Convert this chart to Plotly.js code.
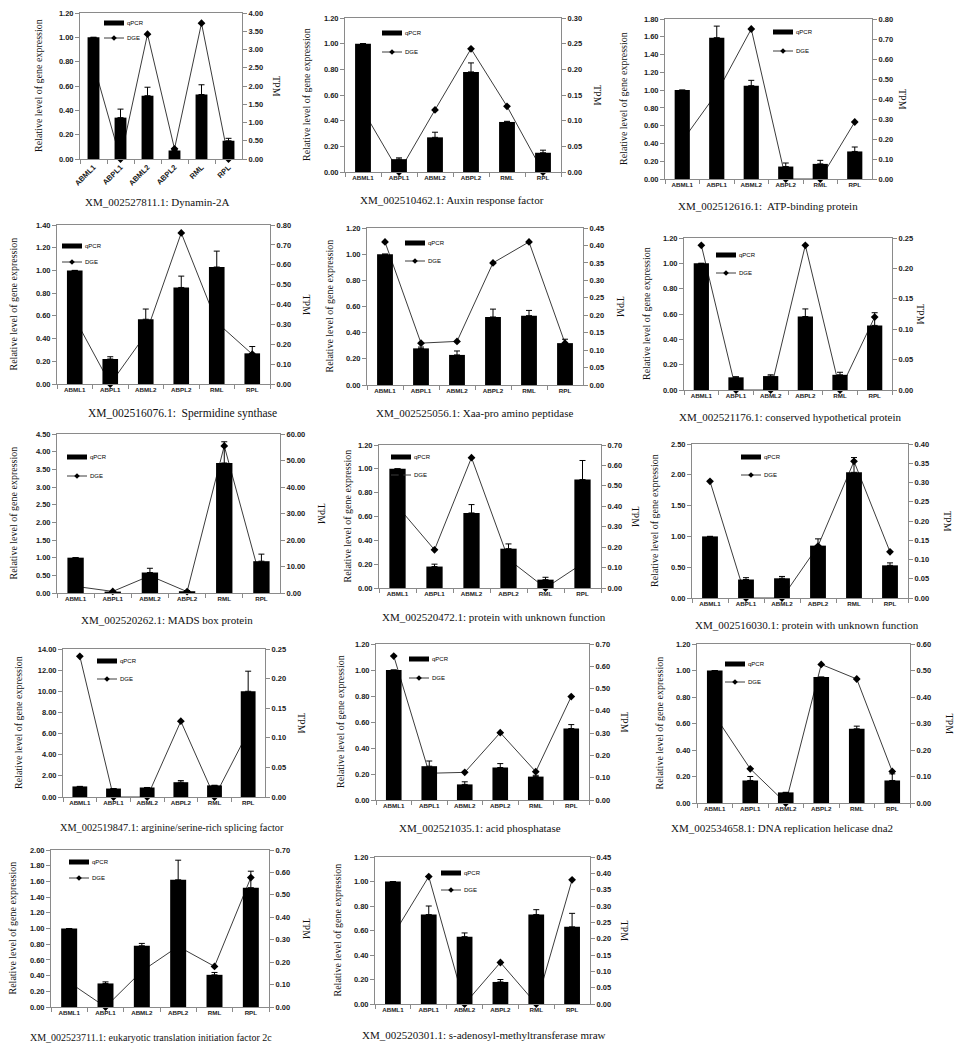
<!DOCTYPE html>
<html><head><meta charset="utf-8">
<script src="https://cdn.plot.ly/plotly-3.0.1.min.js"></script>
<style>html,body{margin:0;padding:0;background:#fff}#chart{width:965px;height:1052px}</style>
</head><body><div id="chart"></div>
<script>
// ---------- DATA ----------
const categories = ['ABML1','ABPL1','ABML2','ABPL2','RML','RPL'];
const geneTitles = [
  'XM_002527811.1: Dynamin-2A',
  'XM_002510462.1: Auxin response factor',
  'XM_002512616.1:  ATP-binding protein',
  'XM_002516076.1:  Spermidine synthase',
  'XM_002525056.1: Xaa-pro amino peptidase',
  'XM_002521176.1: conserved hypothetical protein',
  'XM_002520262.1: MADS box protein',
  'XM_002520472.1: protein with unknown function',
  'XM_002516030.1: protein with unknown function',
  'XM_002519847.1: arginine/serine-rich splicing factor',
  'XM_002521035.1: acid phosphatase',
  'XM_002534658.1: DNA replication helicase dna2',
  'XM_002523711.1: eukaryotic translation initiation factor 2c',
  'XM_002520301.1: s-adenosyl-methyltransferase mraw'
];
const leftTitle = 'Relative level of gene expression';
const rightTitle = 'TPM';
const qpcrName = 'qPCR';
const dgeName = 'DGE';

const qpcr1 = [1.00, 0.34, 0.52, 0.07, 0.53, 0.15];
const err1  = [0, 0.07, 0.07, 0.01, 0.08, 0.02];
const dge1  = [2.60, 0, 3.42, 0.28, 3.72, 0];

const qpcr2 = [1.00, 0.10, 0.27, 0.78, 0.39, 0.15];
const err2  = [0, 0.01, 0.04, 0.07, 0.005, 0.02];
const dge2  = [0.12, 0, 0.121, 0.24, 0.128, 0];

const qpcr3 = [1.00, 1.59, 1.05, 0.14, 0.17, 0.31];
const err3  = [0, 0.13, 0.06, 0.04, 0.04, 0.05];
const dge3  = [0.19, 0.43, 0.75, 0, 0, 0.285];

const qpcr4 = [1.00, 0.22, 0.57, 0.85, 1.03, 0.27];
const err4  = [0, 0.02, 0.09, 0.10, 0.14, 0.06];
const dge4  = [0.33, 0, 0.25, 0.76, 0.31, 0.15];

const qpcr5 = [1.00, 0.28, 0.23, 0.52, 0.53, 0.32];
const err5  = [0, 0.01, 0.03, 0.06, 0.04, 0.03];
const dge5  = [0.41, 0.12, 0.125, 0.35, 0.41, 0.12];

const qpcr6 = [1.00, 0.10, 0.11, 0.58, 0.12, 0.51];
const err6  = [0, 0.005, 0.01, 0.06, 0.02, 0.10];
const dge6  = [0.238, 0, 0, 0.238, 0, 0.12];

const qpcr7 = [1.00, 0.04, 0.58, 0.05, 3.68, 0.90];
const err7  = [0, 0, 0.12, 0.02, 0.60, 0.20];
const dge7  = [2.5, 0.6, 6.5, 0.5, 55.5, 4.0];

const qpcr8 = [1.00, 0.18, 0.63, 0.33, 0.07, 0.91];
const err8  = [0, 0.02, 0.07, 0.04, 0.02, 0.16];
const dge8  = [0.40, 0.187, 0.638, 0.14, 0, 0.12];

const qpcr9 = [1.00, 0.30, 0.32, 0.85, 2.04, 0.53];
const err9  = [0, 0.03, 0.03, 0.11, 0.24, 0.04];
const dge9  = [0.303, 0, 0, 0.135, 0.355, 0.12];

const qpcr10 = [1.00, 0.80, 0.90, 1.40, 1.10, 10.00];
const err10  = [0, 0, 0, 0.15, 0, 1.90];
const dge10  = [0.2376, 0, 0, 0.128, 0, 0.11];

const qpcr11 = [1.00, 0.26, 0.12, 0.25, 0.18, 0.55];
const err11  = [0, 0.04, 0.02, 0.03, 0.01, 0.03];
const dge11  = [0.646, 0.12, 0.124, 0.302, 0.127, 0.464];

const qpcr12 = [1.00, 0.17, 0.08, 0.95, 0.56, 0.17];
const err12  = [0, 0.03, 0, 0, 0.02, 0.05];
const dge12  = [0.33, 0.129, 0, 0.523, 0.468, 0.119];

const qpcr13 = [1.00, 0.30, 0.78, 1.62, 0.41, 1.52];
const err13  = [0, 0.02, 0.03, 0.25, 0.03, 0.21];
const dge13  = [0.11, 0, 0.16, 0.27, 0.181, 0.577];

const qpcr14 = [1.00, 0.73, 0.55, 0.18, 0.73, 0.63];
const err14  = [0, 0.07, 0.03, 0.02, 0.04, 0.11];
const dge14  = [0.21, 0.39, 0, 0.127, 0, 0.38];

const qpcrSeries = [qpcr1,qpcr2,qpcr3,qpcr4,qpcr5,qpcr6,qpcr7,qpcr8,qpcr9,qpcr10,qpcr11,qpcr12,qpcr13,qpcr14];
const errSeries  = [err1,err2,err3,err4,err5,err6,err7,err8,err9,err10,err11,err12,err13,err14];
const dgeSeries  = [dge1,dge2,dge3,dge4,dge5,dge6,dge7,dge8,dge9,dge10,dge11,dge12,dge13,dge14];

// ---------- LAYOUT CONFIG (pixel positions / axis scales) ----------
const W = 965, H = 1052;
const panels = [
  {box:[80,242,13,159],  left:[1.2,0.2], right:[4,0.5],   ltx:39,  rtx:276, tx:157, ty:202, ts:11,   leg:[104,23,15],  ta:-45, xs:7.5},
  {box:[345,561,18,172], left:[1.2,0.2], right:[0.3,0.05],ltx:307, rtx:597, tx:452, ty:200, ts:11,   leg:[382,33,19]},
  {box:[665,872,19,179], left:[1.8,0.2], right:[0.8,0.1], ltx:623, rtx:903, tx:768, ty:206, ts:11,   leg:[773,32,19]},
  {box:[57,270,225,384], left:[1.4,0.2], right:[0.8,0.1], ltx:13,  rtx:306, tx:182, ty:413, ts:11.5, leg:[62,246,16]},
  {box:[367,583,228,385],left:[1.2,0.2], right:[0.45,0.05],ltx:329,rtx:620, tx:474, ty:413, ts:11,   leg:[405,243,18]},
  {box:[684,892,238,390],left:[1.2,0.2], right:[0.25,0.05],ltx:647,rtx:920, tx:790, ty:417, ts:11,   leg:[716,255,18]},
  {box:[57,280,434,593], left:[4.5,0.5], right:[60,10],   ltx:13,  rtx:321, tx:167, ty:620, ts:11,   leg:[67,457,19]},
  {box:[379,601,445,588],left:[1.2,0.2], right:[0.7,0.1], ltx:347, rtx:635, tx:494, ty:617, ts:11,   leg:[391,457,18]},
  {box:[692,908,444,598],left:[2.5,0.5], right:[0.4,0.05],ltx:655, rtx:947, tx:807, ty:625, ts:11,   leg:[741,457,18]},
  {box:[63,265,649,797], left:[14,2],    right:[0.25,0.05],ltx:18, rtx:302, tx:172, ty:827, ts:10.3, leg:[97,661,18]},
  {box:[376,589,644,800],left:[1.2,0.2], right:[0.7,0.1], ltx:340, rtx:625, tx:480, ty:828, ts:11,   leg:[409,659,19]},
  {box:[697,910,644,803],left:[1.2,0.2], right:[0.6,0.1], ltx:659, rtx:949, tx:782, ty:828, ts:11,   leg:[725,664,18]},
  {box:[51,269,850,1007],left:[2.0,0.2], right:[0.7,0.1], ltx:12,  rtx:306, tx:151, ty:1037,ts:10,   leg:[69,862,16]},
  {box:[375,590,857,1004],left:[1.2,0.2],right:[0.45,0.05],ltx:337,rtx:624, tx:484, ty:1035,ts:11,   leg:[441,873,17]}
];

const sans = 'Liberation Sans, Arial, sans-serif';
const serif = 'Liberation Serif, Times New Roman, serif';
const axisCommon = {
  showline:true, linecolor:'#8a8a8a', linewidth:1,
  ticks:'outside', ticklen:4, tickcolor:'#8a8a8a', tickwidth:1,
  showgrid:false, zeroline:false, fixedrange:true
};
const yTickFont = {family:sans, size:7.5, color:'#1a1a1a', weight:'bold'};
const lineColor = '#3c3c3c';

const data = [];
const layout = {
  width:W, height:H, margin:{l:0,r:0,t:0,b:0},
  paper_bgcolor:'#fff', plot_bgcolor:'rgba(0,0,0,0)',
  bargap:0.56, showlegend:false, annotations:[], shapes:[]
};
const px = v => v / W;
const py = v => 1 - v / H;

panels.forEach((p, i) => {
  const n = i + 1;
  const xName = n === 1 ? 'x' : 'x' + n;
  const xKey = n === 1 ? 'xaxis' : 'xaxis' + n;
  const b = 2*n - 1, o = 2*n;
  const yBase = b === 1 ? 'y' : 'y' + b;
  const yBaseKey = b === 1 ? 'yaxis' : 'yaxis' + b;
  const yOver = 'y' + o, yOverKey = 'yaxis' + o;
  const [x0, x1, y0, y1] = p.box;
  const dom = [py(y1), py(y0)];

  layout[xKey] = Object.assign({}, axisCommon, {
    domain:[px(x0), px(x1)], anchor:yBase, type:'category',
    categoryorder:'array', categoryarray:categories,
    tickfont:{family:sans, size:p.xs || 6.2, color:'#1a1a1a', weight:'bold'},
    tickson:'boundaries', mirror:true, tickangle:p.ta || 0, range:[-0.5, 5.5]
  });
  layout[yBaseKey] = Object.assign({}, axisCommon, {
    domain:dom, anchor:xName, side:'right', tickfont:yTickFont,
    range:[0, p.right[0]], dtick:p.right[1], tick0:0, tickformat:'.2f'
  });
  layout[yOverKey] = Object.assign({}, axisCommon, {
    domain:dom, anchor:xName, side:'left', overlaying:yBase, tickfont:yTickFont,
    range:[0, p.left[0]], dtick:p.left[1], tick0:0, tickformat:'.2f'
  });

  // DGE line (base axis, drawn underneath)
  data.push({
    type:'scatter', mode:'lines+markers', name:dgeName, x:categories, y:dgeSeries[i],
    xaxis:xName, yaxis:yBase, cliponaxis:false,
    line:{color:lineColor, width:1},
    marker:{symbol:'diamond', size:6, color:'#000'},
    hoverinfo:'skip'
  });
  // qPCR bars (overlay axis, drawn on top)
  data.push({
    type:'bar', name:qpcrName, x:categories, y:qpcrSeries[i],
    xaxis:xName, yaxis:yOver,
    marker:{color:'#000', line:{width:0}},
    error_y:{type:'data', symmetric:false, array:errSeries[i],
             arrayminus:errSeries[i].map(() => 0), color:'#000', thickness:1, width:3},
    hoverinfo:'skip'
  });

  // legend glyphs
  const [sx, qy, gap] = p.leg;
  const dy = qy + gap;
  layout.shapes.push({type:'rect', xref:'paper', yref:'paper',
    x0:px(sx), x1:px(sx+20), y0:py(qy+2.5), y1:py(qy-2.5),
    fillcolor:'#000', line:{width:0}});
  layout.shapes.push({type:'line', xref:'paper', yref:'paper',
    x0:px(sx), x1:px(sx+20), y0:py(dy), y1:py(dy), line:{color:lineColor, width:1}});
  const cx = sx + 10, r = 2.8;
  layout.shapes.push({type:'path', xref:'paper', yref:'paper',
    path:`M ${px(cx)} ${py(dy-r)} L ${px(cx+r)} ${py(dy)} L ${px(cx)} ${py(dy+r)} L ${px(cx-r)} ${py(dy)} Z`,
    fillcolor:'#000', line:{width:0}});
  layout.annotations.push({xref:'paper', yref:'paper', x:px(sx+20.5), y:py(qy),
    xanchor:'left', yanchor:'middle', text:qpcrName, showarrow:false,
    font:{family:sans, size:6, color:'#000'}});
  layout.annotations.push({xref:'paper', yref:'paper', x:px(sx+20.5), y:py(dy),
    xanchor:'left', yanchor:'middle', text:dgeName, showarrow:false,
    font:{family:sans, size:6, color:'#000'}});

  const yc = py((y0 + y1)/2);
  layout.annotations.push({
    xref:'paper', yref:'paper', x:px(p.tx), y:py(p.ty), xanchor:'center', yanchor:'middle',
    text:geneTitles[i], showarrow:false, font:{family:serif, size:p.ts, color:'#111'}
  });
  layout.annotations.push({
    xref:'paper', yref:'paper', x:px(p.ltx), y:yc, xanchor:'center', yanchor:'middle',
    text:leftTitle, textangle:-90, showarrow:false, font:{family:serif, size:10, color:'#111'}
  });
  layout.annotations.push({
    xref:'paper', yref:'paper', x:px(p.rtx), y:yc, xanchor:'center', yanchor:'middle',
    text:rightTitle, textangle:90, showarrow:false, font:{family:serif, size:10, color:'#111'}
  });
});

Plotly.newPlot('chart', data, layout, {staticPlot:true, displayModeBar:false});
</script>
</body></html>
